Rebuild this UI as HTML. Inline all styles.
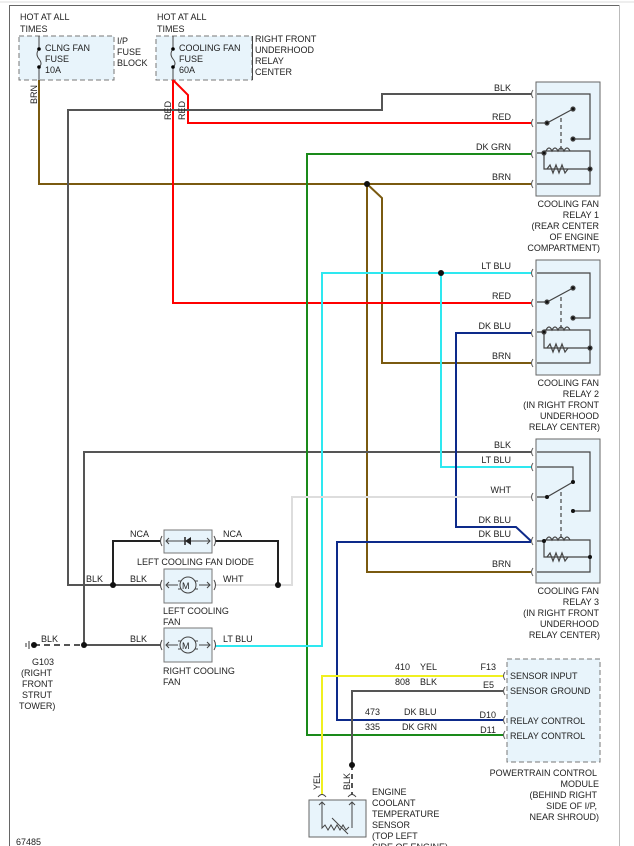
<!DOCTYPE html>
<html><head><meta charset="utf-8"><style>
html,body{margin:0;padding:0;background:#fff;}
svg{display:block;}
text{font-family:"Liberation Sans",sans-serif;font-size:9px;fill:#222;}
</style></head><body>
<svg width="634" height="846" viewBox="0 0 634 846" xmlns="http://www.w3.org/2000/svg">
<defs>
<g id="relayInt" fill="none" stroke="#444" stroke-width="1.2">
  <path d="M537 0 H590 V45 H573"/>
  <path d="M537 29 H547 L573 15"/>
  <path d="M561 24 V56" stroke-dasharray="4,3"/>
  <path d="M537 59 H544 V75 H590 M544 57 H590 V75 M537 90 H590 V75"/>
  <path d="M546 57 q3,-6 6,0 q3,-6 6,0 q3,-6 6,0 q3,-6 6,0" />
  <path d="M547 75 l3,-4 l3,8 l3,-8 l3,8 l3,-8 l3,8 l3,-4"/>
  <circle cx="573" cy="45" r="2" fill="#111"/><circle cx="547" cy="29" r="2" fill="#111"/>
  <circle cx="573" cy="15" r="2" fill="#111"/><circle cx="544" cy="59" r="2" fill="#111"/>
  <circle cx="590" cy="75" r="2" fill="#111"/>
</g>
</defs>
<!-- frame -->
<line x1="0" y1="2" x2="634" y2="2" stroke="#ddd" stroke-width="1"/>
<path d="M9.5 846 V5.5 H619.5 V846" fill="none" stroke="#666" stroke-width="1"/>
<line x1="619.5" y1="5" x2="619.5" y2="846" stroke="#bbb"/>

<!-- fuse boxes -->
<rect x="19" y="36" width="95" height="44" fill="#e8f4fb" stroke="#777" stroke-dasharray="5,3"/>
<rect x="156" y="36" width="96" height="44" fill="#e8f4fb" stroke="#777" stroke-dasharray="5,3"/>
<path d="M39 36 V49 q-4,5 0,10 q4,5 0,8 V80 M173 36 V49 q-4,5 0,10 q4,5 0,8 V80" fill="none" stroke="#444"/>
<circle cx="39" cy="49" r="1.8"/><circle cx="39" cy="67" r="1.8"/>
<circle cx="173" cy="49" r="1.8"/><circle cx="173" cy="67" r="1.8"/>
<line x1="252.5" y1="36" x2="252.5" y2="80" stroke="#444"/>
<text x="20" y="20">HOT AT ALL</text><text x="20" y="32">TIMES</text>
<text x="157" y="20">HOT AT ALL</text><text x="157" y="32">TIMES</text>
<text x="45" y="51">CLNG FAN</text><text x="45" y="62">FUSE</text><text x="45" y="73">10A</text>
<text x="179" y="51">COOLING FAN</text><text x="179" y="62">FUSE</text><text x="179" y="73">60A</text>
<text x="117" y="44">I/P</text><text x="117" y="55">FUSE</text><text x="117" y="66">BLOCK</text>
<text x="255" y="42">RIGHT FRONT</text><text x="255" y="53">UNDERHOOD</text><text x="255" y="64">RELAY</text><text x="255" y="75">CENTER</text>

<!-- wires -->
<g fill="none" stroke-width="2">
<path d="M39 80 V184 H531" stroke="#7a5a10"/>
<path d="M367 184 V572 H531 M367 184 L382 198 V363 H531" stroke="#7a5a10"/>
<path d="M173 80 L188 95 V123 H531" stroke="#f00"/>
<path d="M173 80 V303 H531" stroke="#f00"/>
<path d="M531 94 H382 V110 H68 V585 H160" stroke="#555"/>
<path d="M531 452 H84 V645 H160" stroke="#555"/>
<path d="M531 154 H307 V735 H503" stroke="#1a8a1a"/>
<path d="M531 273 H322 V646 H215 M441 273 V467 H531" stroke="#2ee8f0"/>
<path d="M531 333 H456 V527 H516 L531 541" stroke="#0d2a8a"/>
<path d="M531 542 H337 V720 H503" stroke="#0d2a8a"/>
<path d="M531 497 H292 V585 H215" stroke="#ddd"/>
<path d="M503 676 H322 V795" stroke="#f0f020"/>
<path d="M503 691 H352 V765" stroke="#555"/>
<path d="M352 765 V795" stroke="#555" stroke-dasharray="5,4"/>
<path d="M113 585 V541 H160 M215 541 H278 V585" stroke="#222"/>
<path d="M34 645 H84" stroke="#555" stroke-dasharray="6,4"/>
</g>
<g fill="#111">
<circle cx="367" cy="184" r="3"/><circle cx="441" cy="273" r="3"/>
<circle cx="113" cy="585" r="3"/><circle cx="278" cy="585" r="3"/>
<circle cx="84" cy="645" r="3"/><circle cx="34" cy="645" r="3"/><circle cx="352" cy="765" r="3"/>
</g>
<path d="M29 641 V649 M26 643 V647" stroke="#333"/>

<!-- relays -->
<rect x="536" y="82" width="64" height="114" fill="#e8f4fb" stroke="#666"/>
<rect x="536" y="260" width="64" height="115" fill="#e8f4fb" stroke="#666"/>
<rect x="536" y="439" width="64" height="144" fill="#e8f4fb" stroke="#666"/>
<use href="#relayInt" transform="translate(0,94)"/>
<use href="#relayInt" transform="translate(0,273)"/>
<g fill="none" stroke="#444" stroke-width="1.2">
  <path d="M537 452 H590 V511 H573"/>
  <path d="M537 467 H573 V482"/>
  <path d="M537 497 H547 L573 482"/>
  <path d="M561 492 V538" stroke-dasharray="4,3"/>
  <path d="M537 541 H544 V557 H590 M544 540 H590 V557 M537 572 H590 V557"/>
  <path d="M546 540 q3,-6 6,0 q3,-6 6,0 q3,-6 6,0 q3,-6 6,0"/>
  <path d="M547 557 l3,-4 l3,8 l3,-8 l3,8 l3,-8 l3,8 l3,-4"/>
</g>
<g fill="#111"><circle cx="573" cy="511" r="2"/><circle cx="547" cy="497" r="2"/><circle cx="573" cy="482" r="2"/><circle cx="544" cy="541" r="2"/><circle cx="590" cy="557" r="2"/></g>
<g fill="none" stroke="#555">
<path d="M533 90 q-3,4 0,8 M533 119 q-3,4 0,8 M533 150 q-3,4 0,8 M533 180 q-3,4 0,8"/>
<path d="M533 269 q-3,4 0,8 M533 299 q-3,4 0,8 M533 329 q-3,4 0,8 M533 359 q-3,4 0,8"/>
<path d="M533 448 q-3,4 0,8 M533 463 q-3,4 0,8 M533 493 q-3,4 0,8 M533 537 q-3,4 0,8 M533 568 q-3,4 0,8"/>
<path d="M505 672 q-3,4 0,8 M505 687 q-3,4 0,8 M505 716 q-3,4 0,8 M505 731 q-3,4 0,8"/>
</g>
<g text-anchor="end">
<text x="511" y="91">BLK</text><text x="511" y="120">RED</text><text x="511" y="150">DK GRN</text><text x="511" y="180">BRN</text>
<text x="511" y="269">LT BLU</text><text x="511" y="299">RED</text><text x="511" y="329">DK BLU</text><text x="511" y="359">BRN</text>
<text x="511" y="448">BLK</text><text x="511" y="463">LT BLU</text><text x="511" y="493">WHT</text><text x="511" y="523">DK BLU</text><text x="511" y="537">DK BLU</text><text x="511" y="567">BRN</text>
<text x="599" y="207">COOLING FAN</text><text x="599" y="218">RELAY 1</text><text x="599" y="229">(REAR CENTER</text><text x="599" y="240">OF ENGINE</text><text x="600" y="251">COMPARTMENT)</text>
<text x="599" y="386">COOLING FAN</text><text x="599" y="397">RELAY 2</text><text x="599" y="408">(IN RIGHT FRONT</text><text x="599" y="419">UNDERHOOD</text><text x="600" y="430">RELAY CENTER)</text>
<text x="599" y="594">COOLING FAN</text><text x="599" y="605">RELAY 3</text><text x="599" y="616">(IN RIGHT FRONT</text><text x="599" y="627">UNDERHOOD</text><text x="600" y="638">RELAY CENTER)</text>
<text x="597" y="776">POWERTRAIN CONTROL</text><text x="599" y="787">MODULE</text><text x="597" y="798">(BEHIND RIGHT</text><text x="597" y="809">SIDE OF I/P,</text><text x="599" y="820">NEAR SHROUD)</text>
<text x="496" y="670">F13</text><text x="494" y="688">E5</text><text x="496" y="718">D10</text><text x="496" y="733">D11</text>
</g>
<!-- vertical labels -->
<g>
<text transform="translate(37,104) rotate(-90)">BRN</text>
<text transform="translate(171,120) rotate(-90)">RED</text>
<text transform="translate(185,120) rotate(-90)">RED</text>
<text transform="translate(320,790) rotate(-90)">YEL</text>
<text transform="translate(350,790) rotate(-90)">BLK</text>
</g>

<!-- bottom-left components -->
<rect x="164" y="530" width="48" height="23" fill="#e8f4fb" stroke="#777"/>
<rect x="164" y="569" width="48" height="34" fill="#e8f4fb" stroke="#777"/>
<rect x="164" y="628" width="48" height="34" fill="#e8f4fb" stroke="#777"/>
<g fill="none" stroke="#444">
<path d="M162 536 q-3,5 0,10 M214 536 q3,5 0,10 M162 580 q-3,5 0,10 M214 580 q3,5 0,10 M162 640 q-3,5 0,10 M214 640 q3,5 0,10"/>
<path d="M166 541 H210 M169 538 l-3,3 3,3 M207 538 l3,3 -3,3"/>
<path d="M166 585 H178 M199 585 H210 M169 582 l-3,3 3,3 M207 582 l3,3 -3,3 M178 581 h3 v8 h-3 M198 581 h-3 v8 h3"/>
<circle cx="188" cy="585" r="8" fill="#e8f4fb"/>
<path d="M166 645 H178 M199 645 H210 M169 642 l-3,3 3,3 M207 642 l3,3 -3,3 M178 641 h3 v8 h-3 M198 641 h-3 v8 h3"/>
<circle cx="188" cy="645" r="8" fill="#e8f4fb"/>
</g>
<path d="M185 541 L191 537 V545 Z" fill="#222"/><line x1="185" y1="537" x2="185" y2="545" stroke="#222" stroke-width="1.5"/>
<text x="182" y="589" font-size="11">M</text><text x="182" y="649" font-size="11">M</text>
<text x="130" y="537">NCA</text><text x="223" y="537">NCA</text>
<text x="137" y="565">LEFT COOLING FAN DIODE</text>
<text x="86" y="582">BLK</text><text x="130" y="582">BLK</text><text x="223" y="582">WHT</text>
<text x="163" y="614">LEFT COOLING</text><text x="163" y="625">FAN</text>
<text x="41" y="642">BLK</text><text x="130" y="642">BLK</text><text x="223" y="642">LT BLU</text>
<text x="163" y="674">RIGHT COOLING</text><text x="163" y="685">FAN</text>
<text x="32" y="665">G103</text><text x="21" y="676">(RIGHT</text><text x="22" y="687">FRONT</text><text x="22" y="698">STRUT</text><text x="19" y="709">TOWER)</text>
<text x="16" y="845">67485</text>

<!-- PCM -->
<rect x="507" y="659" width="93" height="103" fill="#e8f4fb" stroke="#777" stroke-dasharray="5,3"/>
<text x="510" y="679">SENSOR INPUT</text><text x="510" y="694">SENSOR GROUND</text>
<text x="510" y="724">RELAY CONTROL</text><text x="510" y="739">RELAY CONTROL</text>
<text x="395" y="670">410</text><text x="420" y="670">YEL</text>
<text x="395" y="685">808</text><text x="420" y="685">BLK</text>
<text x="365" y="715">473</text><text x="404" y="715">DK BLU</text>
<text x="365" y="730">335</text><text x="402" y="730">DK GRN</text>

<!-- ECT sensor -->
<rect x="309" y="800" width="57" height="37" fill="#e8f4fb" stroke="#666"/>
<g fill="none" stroke="#444">
<path d="M318 797 q4,-5 8,0 M348 797 q4,-5 8,0"/>
<path d="M322 802 V828 l3,-3 3,5 3,-5 3,5 3,-5 3,5 3,-5 3,5 3,-3 M352 802 V828 M319 805 l3,-3 3,3 M349 805 l3,-3 3,3 M332 818 L348 834"/>
</g>
<text x="372" y="795">ENGINE</text><text x="372" y="806">COOLANT</text><text x="372" y="817">TEMPERATURE</text><text x="372" y="828">SENSOR</text><text x="372" y="839">(TOP LEFT</text><text x="372" y="850">SIDE OF ENGINE)</text>
</svg>
</body></html>
